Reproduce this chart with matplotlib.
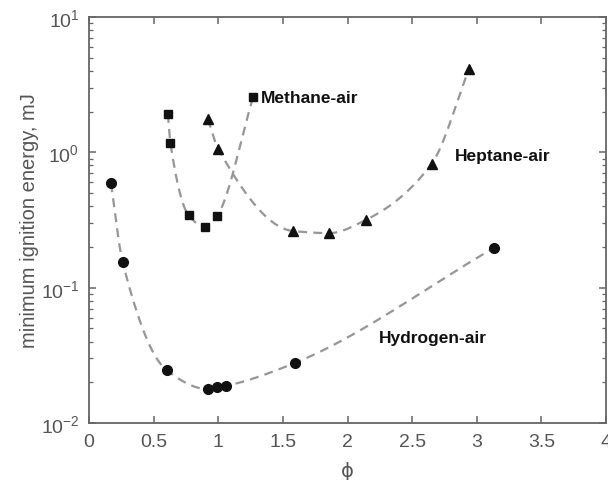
import numpy as np
import matplotlib
matplotlib.use('Agg')
import matplotlib.pyplot as plt
from matplotlib.ticker import LogLocator, LogFormatterMathtext, NullFormatter

plt.rcParams['font.family'] = ['Liberation Sans', 'DejaVu Sans']
plt.rcParams['mathtext.fontset'] = 'custom'
plt.rcParams['mathtext.rm'] = 'Liberation Sans'
plt.rcParams['mathtext.it'] = 'Liberation Sans'

# Hydrogen-air (circles)
h2_phi = [0.17, 0.26, 0.60, 0.92, 0.99, 1.06, 1.59, 3.13]
h2_mie = [0.59, 0.155, 0.0246, 0.0178, 0.0183, 0.0188, 0.0277, 0.196]

# Methane-air (squares)
ch4_phi = [0.61, 0.63, 0.77, 0.90, 0.99, 1.27]
ch4_mie = [1.92, 1.17, 0.344, 0.28, 0.338, 2.56]

# Heptane-air (triangles)
c7_phi = [0.92, 1.00, 1.58, 1.86, 2.14, 2.65, 2.94]
c7_mie = [1.76, 1.06, 0.262, 0.253, 0.316, 0.82, 4.13]

labels = ['Methane-air', 'Heptane-air', 'Hydrogen-air']
label_pos = [(1.33, 2.56), (2.83, 0.94), (2.24, 0.0425)]


def pchip_curve(x, y, n=200):
    # smooth monotone cubic through the points, done in log(y)
    x = np.asarray(x, float)
    y = np.log10(np.asarray(y, float))
    h = np.diff(x)
    d = np.diff(y) / h
    m = np.zeros_like(y)
    for k in range(1, len(x) - 1):
        if d[k - 1] * d[k] > 0:
            w1 = 2 * h[k] + h[k - 1]
            w2 = h[k] + 2 * h[k - 1]
            m[k] = (w1 + w2) / (w1 / d[k - 1] + w2 / d[k])
    m[0] = d[0]
    m[-1] = d[-1]
    xs = np.linspace(x[0], x[-1], n)
    idx = np.clip(np.searchsorted(x, xs) - 1, 0, len(x) - 2)
    t = (xs - x[idx]) / h[idx]
    h00 = 2 * t**3 - 3 * t**2 + 1
    h10 = t**3 - 2 * t**2 + t
    h01 = -2 * t**3 + 3 * t**2
    h11 = t**3 - t**2
    ys = h00 * y[idx] + h10 * h[idx] * m[idx] + h01 * y[idx + 1] + h11 * h[idx] * m[idx + 1]
    return xs, 10 ** ys


fig = plt.figure(figsize=(6.08, 4.81), dpi=100)
ax = fig.add_axes([0.1464, 0.1185, 0.8503, 0.8441])

line_kw = dict(color='#969696', linestyle=(0, (4, 2.8)), linewidth=1.6, zorder=1)
for px, py in [(h2_phi, h2_mie), (ch4_phi, ch4_mie), (c7_phi, c7_mie)]:
    cx, cy = pchip_curve(px, py)
    ax.plot(cx, cy, **line_kw)

ax.plot(h2_phi, h2_mie, 'o', color='#111111', markersize=7, linestyle='none', zorder=2)
ax.plot(ch4_phi, ch4_mie, 's', color='#111111', markersize=6, linestyle='none', zorder=2)
ax.plot(c7_phi, c7_mie, '^', color='#111111', markersize=7.5, linestyle='none', zorder=2)

for txt, (px, py) in zip(labels, label_pos):
    ax.text(px, py, txt, fontsize=12.5, fontweight='bold', color='#111111',
            ha='left', va='center')

ax.set_yscale('log')
ax.set_xlim(0, 4)
ax.set_ylim(1e-2, 1e1)
ax.set_xticks([0, 0.5, 1, 1.5, 2, 2.5, 3, 3.5, 4])
ax.set_xticklabels(['0', '0.5', '1', '1.5', '2', '2.5', '3', '3.5', '4'])
ax.yaxis.set_major_locator(LogLocator(base=10, numticks=10))
ax.yaxis.set_major_formatter(LogFormatterMathtext())
ax.yaxis.set_minor_locator(LogLocator(base=10, subs=np.arange(2, 10), numticks=10))
ax.yaxis.set_minor_formatter(NullFormatter())

for sp in ax.spines.values():
    sp.set_color('#666666')
    sp.set_linewidth(1.3)

ax.tick_params(which='both', direction='in', top=True, right=True, colors='#666666')
ax.tick_params(which='major', length=5, width=1.1, labelsize=14, labelcolor='#555555', pad=7)
ax.tick_params(which='minor', length=3, width=0.9)

ax.set_ylabel('minimum ignition energy, mJ', fontsize=14.5, color='#555555', labelpad=1)
ax.set_xlabel('\u03d5', fontsize=14, color='#555555', labelpad=8,
              family=['DejaVu Sans'])

fig.savefig('out.png', dpi=100)
